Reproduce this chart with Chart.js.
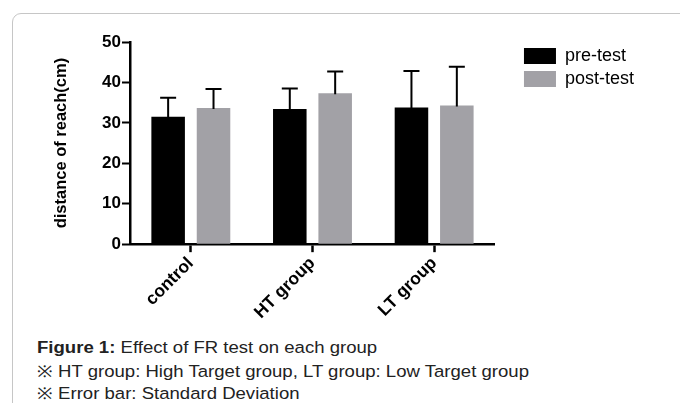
<!DOCTYPE html>
<html>
<head>
<meta charset="utf-8">
<script src="https://cdn.jsdelivr.net/npm/chart.js@4.4.1/dist/chart.umd.min.js"></script>
<style>
  html, body { margin: 0; padding: 0; background: #fff; }
  #page { position: relative; width: 680px; height: 403px; overflow: hidden; background: #fff; }
  #frame { position: absolute; left: 12px; top: 13px; width: 720px; height: 440px;
           border: 1.5px solid #c6c6c6; border-radius: 9px; box-sizing: border-box; }
  #wrap { position: absolute; left: 0; top: 0; width: 680px; height: 330px; }
  .cap { position: absolute; left: 37px; font-family: "Liberation Sans", Arial, sans-serif;
         font-size: 16.3px; color: #222; white-space: nowrap; transform: scaleX(1.14); transform-origin: 0 0; }
</style>
</head>
<body>
<div id="page">
  <div id="frame"></div>
  <div id="wrap"><canvas id="c"></canvas></div>
  <div class="cap" style="top:338px;"><b>Figure 1:</b> Effect of FR test on each group</div>
  <div class="cap" style="top:360px;">※ HT group: High Target group, LT group: Low Target group</div>
  <div class="cap" style="top:382px;">※ Error bar: Standard Deviation</div>
</div>
<script>
const categories = ['control', 'HT group', 'LT group'];
const seriesNames = ['pre-test', 'post-test'];
const preTest = [31.5, 33.4, 33.8];
const postTest = [33.7, 37.3, 34.3];
const preSD = [4.7, 5.1, 9.0];
const postSD = [4.7, 5.4, 9.6];
const yTicks = [0, 10, 20, 30, 40, 50];

const FONT = '"Liberation Sans", Arial, sans-serif';

const errorBars = {
  id: 'errorBars',
  afterDatasetsDraw(chart) {
    const ctx = chart.ctx;
    const y = chart.scales.y;
    const sds = [preSD, postSD];
    ctx.save();
    ctx.strokeStyle = '#000';
    ctx.lineWidth = 2;
    chart.data.datasets.forEach((ds, i) => {
      const meta = chart.getDatasetMeta(i);
      meta.data.forEach((bar, j) => {
        const top = y.getPixelForValue(ds.data[j] + sds[i][j]);
        const base = bar.y;
        ctx.beginPath();
        ctx.moveTo(bar.x, base + 1);
        ctx.lineTo(bar.x, top);
        ctx.moveTo(bar.x - 8, top);
        ctx.lineTo(bar.x + 8, top);
        ctx.stroke();
      });
    });
    ctx.restore();
  }
};

const spacer = {
  id: 'legendSpacer',
  beforeInit(chart) {
    Chart.layouts.addBox(chart, {
      position: 'right', weight: 500, fullSize: false, options: { display: false },
      width: 0, height: 0, left: 0, top: 0, right: 0, bottom: 0,
      isHorizontal() { return false; },
      update(maxWidth, maxHeight) { this.width = 24; this.height = maxHeight; },
      draw() {}
    });
  }
};

new Chart(document.getElementById('c'), {
  type: 'bar',
  data: {
    labels: categories,
    datasets: [
      { label: seriesNames[0], data: preTest, backgroundColor: '#000000', borderWidth: 0 },
      { label: seriesNames[1], data: postTest, backgroundColor: '#a2a1a6', borderWidth: 0 }
    ]
  },
  options: {
    responsive: true,
    maintainAspectRatio: false,
    animation: false,
    events: [],
    layout: { padding: { top: 42, left: 52, right: 36, bottom: 6 } },
    datasets: { bar: { categoryPercentage: 0.746, barPercentage: 0.739 } },
    plugins: {
      tooltip: { enabled: false },
      legend: {
        position: 'right',
        align: 'start',
        labels: {
          boxWidth: 32, boxHeight: 16, padding: 5, color: '#000',
          font: { family: FONT, size: 18 }
        }
      }
    },
    scales: {
      x: {
        offset: true,
        grid: { offset: false, drawOnChartArea: false, drawTicks: true, tickLength: 8,
                tickColor: '#000', tickWidth: 2.5 },
        border: { display: true, color: '#000', width: 2.5 },
        ticks: { color: '#000', font: { family: FONT, size: 17.5, weight: 'bold' },
                 minRotation: 45, maxRotation: 45, padding: 1 }
      },
      y: {
        min: 0, max: 50,
        afterFit(scale) { scale.width = 78; },
        afterBuildTicks(scale) { scale.ticks = yTicks.map(v => ({ value: v })); },
        grid: { drawOnChartArea: false, drawTicks: true, tickLength: 8,
                tickColor: '#000', tickWidth: 2 },
        border: { display: true, color: '#000', width: 2.5 },
        ticks: { color: '#000', font: { family: FONT, size: 17, weight: 'bold' }, padding: 1 },
        title: { display: true, text: 'distance of reach(cm)', color: '#000',
                 font: { family: FONT, size: 16.5, weight: 'bold' }, padding: { top: 0, bottom: 10 } }
      }
    }
  },
  plugins: [spacer, errorBars]
});
</script>
</body>
</html>
